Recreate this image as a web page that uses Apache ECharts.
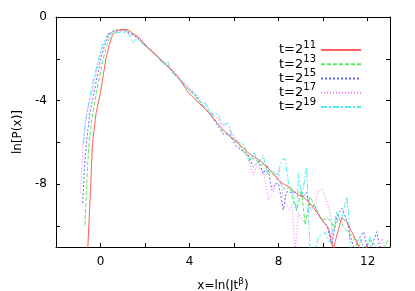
<!DOCTYPE html>
<html><head><meta charset="utf-8">
<script src="https://cdn.jsdelivr.net/npm/echarts@6/dist/echarts.min.js"></script>
<style>html,body{margin:0;padding:0;background:#fff}#c{width:415px;height:291px}</style>
</head><body><div id="c"></div>
<script>
const exponents = ['11', '13', '15', '17', '19'];
const xTicks = [0, 2, 4, 6, 8, 10, 12];
const xLabels = [0, 4, 8, 12];
const yTicks = [0, -2, -4, -6, -8, -10];
const yLabels = [0, -4, -8];

const s11 = [[-0.62,-12],[-0.57,-11],[-0.45,-8.3],[-0.36,-6.0],[-0.2,-4.6],[0.0,-3.6],[0.24,-2.0],[0.4,-1.3],[0.54,-0.85],[0.75,-0.65],[1.0,-0.58],[1.25,-0.62],[1.45,-0.78],[1.68,-0.94],[1.9,-1.2],[2.13,-1.49],[2.35,-1.7],[2.58,-1.9],[2.9,-2.25],[3.33,-2.68],[3.6,-3.05],[3.93,-3.6],[4.3,-4.0],[4.7,-4.4],[5.0,-4.75],[5.42,-5.3],[5.8,-5.7],[6.1,-5.95],[6.41,-6.25],[6.63,-6.5],[6.9,-6.7],[7.2,-6.9],[7.54,-7.24],[7.8,-7.55],[8.06,-7.88],[8.44,-8.12],[8.89,-8.52],[9.1,-8.6],[9.34,-8.84],[9.55,-9.1],[9.79,-9.47],[10.0,-9.8],[10.24,-10.1],[10.37,-10.75],[10.46,-11.1],[10.55,-10.7],[10.7,-10.1],[10.83,-9.6],[11.05,-9.8],[11.28,-10.27],[11.5,-10.75],[11.7,-11.2],[11.85,-11.3],[11.95,-10.95],[12.05,-11.3]];
const s13 = [[-0.7,-9.95],[-0.6,-7.5],[-0.51,-5.9],[-0.35,-4.6],[-0.18,-3.6],[0.12,-2.0],[0.3,-1.3],[0.46,-0.8],[0.7,-0.62],[0.9,-0.6],[1.1,-0.62],[1.35,-0.72],[1.6,-0.9],[1.9,-1.22],[2.2,-1.5],[2.58,-1.92],[3.0,-2.3],[3.33,-2.7],[3.7,-3.15],[4.0,-3.55],[4.4,-3.95],[4.8,-4.45],[5.2,-5.0],[5.5,-5.45],[5.9,-5.8],[6.2,-6.1],[6.63,-6.68],[6.9,-6.8],[7.24,-7.08],[7.39,-7.0],[7.54,-7.4],[7.84,-7.56],[8.14,-8.04],[8.29,-8.28],[8.51,-8.12],[8.66,-8.84],[8.81,-9.23],[9.03,-8.28],[9.19,-9.95],[9.41,-8.6],[9.64,-9.08],[9.94,-9.71],[10.16,-9.63],[10.31,-9.71],[10.5,-10.1],[10.69,-9.6],[10.9,-10.0],[11.14,-10.34],[11.36,-10.5],[11.59,-11.1],[11.8,-11.4],[12.1,-10.67],[12.34,-10.9],[12.6,-11.3],[12.87,-10.75],[13.0,-10.6]];
const s15 = [[-0.8,-8.9],[-0.72,-7.2],[-0.62,-5.9],[-0.48,-4.6],[-0.29,-3.6],[0.01,-2.0],[0.2,-1.3],[0.39,-0.8],[0.6,-0.65],[0.85,-0.62],[1.1,-0.66],[1.35,-0.8],[1.6,-0.95],[1.9,-1.25],[2.2,-1.55],[2.6,-1.95],[3.0,-2.35],[3.33,-2.72],[3.7,-3.2],[4.0,-3.5],[4.3,-3.75],[4.6,-4.3],[4.9,-4.6],[5.2,-5.1],[5.5,-5.6],[5.8,-5.6],[6.1,-6.2],[6.4,-6.4],[6.63,-6.6],[6.86,-7.16],[7.1,-6.9],[7.3,-7.5],[7.5,-7.1],[7.69,-8.28],[7.85,-8.0],[7.99,-7.95],[8.21,-9.23],[8.35,-8.36],[8.6,-8.4],[8.89,-8.36],[9.1,-8.6],[9.25,-8.4],[9.41,-9.15],[9.6,-9.0],[9.94,-9.71],[10.16,-9.95],[10.39,-10.9],[10.61,-9.55],[10.84,-9.15],[11.06,-9.71],[11.21,-10.5],[11.4,-11.1],[11.6,-10.6],[11.82,-10.27],[12.0,-11.1],[12.2,-10.9],[12.41,-10.27],[12.55,-11.1],[12.7,-11.3]];
const s17 = [[-0.89,-8.4],[-0.84,-7.2],[-0.78,-5.9],[-0.62,-4.6],[-0.39,-3.6],[-0.06,-2.0],[0.15,-1.3],[0.34,-0.8],[0.55,-0.7],[0.8,-0.65],[1.05,-0.68],[1.3,-0.78],[1.55,-0.92],[1.85,-1.2],[2.2,-1.5],[2.6,-1.9],[3.0,-2.3],[3.33,-2.65],[3.7,-3.1],[4.0,-3.4],[4.4,-3.8],[4.8,-4.3],[5.1,-4.7],[5.4,-5.05],[5.7,-5.3],[6.0,-5.7],[6.3,-6.2],[6.63,-6.84],[6.86,-7.56],[7.01,-7.16],[7.31,-7.32],[7.54,-8.76],[7.76,-8.36],[7.99,-7.32],[8.21,-8.6],[8.44,-9.23],[8.6,-9.0],[8.74,-11.2],[8.89,-9.39],[9.1,-9.8],[9.3,-9.5],[9.49,-9.23],[9.65,-8.8],[9.79,-8.36],[9.94,-8.2],[10.09,-8.6],[10.24,-9.08],[10.35,-9.6],[10.46,-11.1],[10.7,-11.3],[11.5,-11.3],[11.7,-10.7],[11.9,-11.3],[12.5,-11.3],[12.65,-10.6],[12.8,-11.3]];
const s19 = [[-0.77,-6.04],[-0.68,-5.0],[-0.44,-3.6],[-0.09,-2.0],[0.1,-1.3],[0.31,-0.85],[0.63,-0.78],[0.9,-0.72],[1.15,-0.75],[1.3,-0.85],[1.45,-1.26],[1.6,-1.05],[1.85,-1.25],[2.2,-1.55],[2.6,-1.95],[2.85,-2.3],[3.03,-2.14],[3.2,-2.65],[3.5,-2.95],[3.93,-3.33],[4.2,-3.7],[4.45,-4.2],[4.7,-4.1],[5.0,-4.7],[5.28,-4.61],[5.43,-5.17],[5.73,-5.09],[5.96,-5.8],[6.2,-6.0],[6.45,-6.1],[6.7,-6.9],[6.9,-6.5],[7.09,-7.0],[7.3,-6.6],[7.5,-7.5],[7.7,-7.3],[7.95,-7.6],[8.14,-6.84],[8.29,-6.76],[8.44,-7.96],[8.6,-8.2],[8.81,-9.31],[8.89,-7.48],[9.04,-8.6],[9.26,-7.16],[9.34,-9.39],[9.42,-11.3],[9.6,-11.3],[9.8,-10.5],[10.1,-10.3],[10.3,-10.8],[10.45,-10.1],[10.61,-9.31],[10.8,-9.8],[11.06,-8.6],[11.15,-9.6],[11.22,-11.2],[11.5,-11.3],[11.7,-10.6],[11.85,-11.3],[12.1,-10.5],[12.3,-11.3]];

const seriesData = [s11, s13, s15, s17, s19];
const colors = ['#ff6060', '#5ee85e', '#6464ff', '#ff70ff', '#4cefef'];
const dashes = ['solid', [4, 2], [2, 2], [1, 2], [6, 2, 2, 2]];

const chart = echarts.init(document.getElementById('c'), null, {renderer: 'canvas'});
const font = 'DejaVu Sans, Liberation Sans, sans-serif';
const axisCommon = {
  type: 'value',
  axisLine: {show: true, onZero: false, lineStyle: {color: '#000', width: 1}},
  splitLine: {show: false},
  axisTick: {show: true, inside: true, length: 4, lineStyle: {color: '#000'}},
};
chart.setOption({
  animation: false,
  backgroundColor: '#fff',
  grid: {left: 56, right: 25, top: 17, bottom: 44, outerBoundsMode: 'none', containLabel: false},
  legend: {
    orient: 'vertical', right: 48, top: 35, align: 'right',
    itemWidth: 40, itemHeight: 8, itemGap: -5.75,
    itemStyle: {opacity: 0},
    data: exponents.map(e => 't=2^' + e),
    formatter: n => '{b|t=2}{s|' + n.split('^')[1] + '}',
    textStyle: {
      fontFamily: font, color: '#000',
      rich: {
        b: {fontSize: 13, fontFamily: font, color: '#000', lineHeight: 14},
        s: {fontSize: 10, fontFamily: font, color: '#000', padding: [0, 0, 10, 0], lineHeight: 4}
      }
    }
  },
  xAxis: [
    Object.assign({}, axisCommon, {
      min: -2, max: 13, position: 'bottom',
      axisTick: Object.assign({}, axisCommon.axisTick, {customValues: xTicks}),
      axisLabel: {customValues: xLabels, fontSize: 12, fontFamily: font, color: '#000', margin: 9},
      name: '{a|x=ln(Jt}{s|β}{a|)}', nameLocation: 'middle', nameGap: 30,
      nameTextStyle: {rich: {
        a: {fontSize: 12, fontFamily: font, color: '#000'},
        s: {fontSize: 9, fontFamily: font, color: '#000', padding: [0, 0, 8, 0]}
      }}
    }),
    Object.assign({}, axisCommon, {
      min: -2, max: 13, position: 'top',
      axisTick: Object.assign({}, axisCommon.axisTick, {customValues: xTicks}),
      axisLabel: {show: false}
    })
  ],
  yAxis: [
    Object.assign({}, axisCommon, {
      min: -11, max: 0, position: 'left',
      axisTick: Object.assign({}, axisCommon.axisTick, {customValues: yTicks}),
      axisLabel: {customValues: yLabels, fontSize: 12, fontFamily: font, color: '#000', margin: 9},
      name: 'ln[P(x)]', nameLocation: 'middle', nameGap: 27,
      nameTextStyle: {fontSize: 12, fontFamily: font, color: '#000'}
    }),
    Object.assign({}, axisCommon, {
      min: -11, max: 0, position: 'right',
      axisTick: Object.assign({}, axisCommon.axisTick, {customValues: yTicks}),
      axisLabel: {show: false}
    })
  ],
  series: seriesData.map((d, i) => ({
    name: 't=2^' + exponents[i],
    type: 'line', data: d, symbol: 'none', clip: true,
    xAxisIndex: 0, yAxisIndex: 0,
    lineStyle: {color: colors[i], width: 1, type: dashes[i]},
    itemStyle: {color: colors[i]},
    z: 5 - i
  }))
});
</script></body></html>
